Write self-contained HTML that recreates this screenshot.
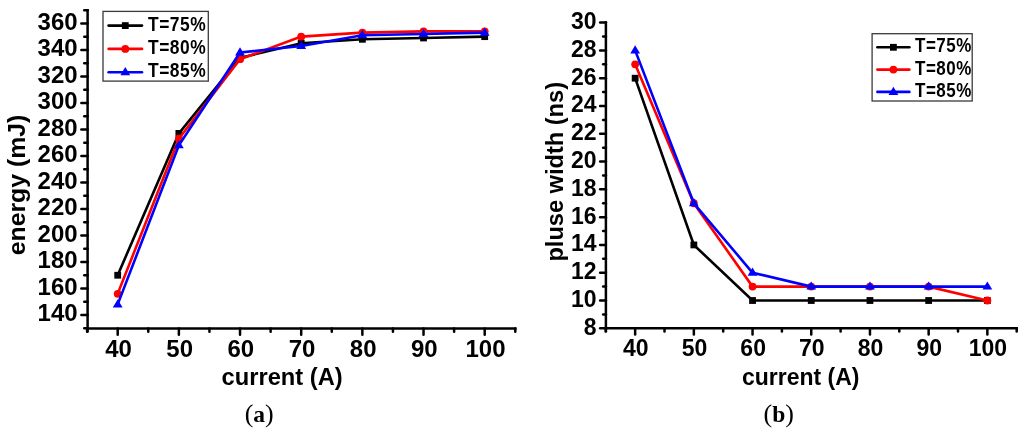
<!DOCTYPE html>
<html><head><meta charset="utf-8"><style>
html,body{margin:0;padding:0;background:#fff;width:1024px;height:433px;overflow:hidden}
svg{display:block;will-change:transform}
</style></head><body>
<svg width="1024" height="433" viewBox="0 0 1024 433" font-family='"Liberation Sans", sans-serif' font-weight="bold">
<rect width="1024" height="433" fill="#fff"/>
<line x1="87.60" y1="8.89" x2="87.60" y2="332.45" stroke="#000" stroke-width="2.5" fill="none"/>
<line x1="86.35" y1="328.45" x2="516.54" y2="328.45" stroke="#000" stroke-width="2.5" fill="none"/>
<line x1="84.25" y1="328.25" x2="87.60" y2="328.25" stroke="#000" stroke-width="2.5" fill="none" stroke-linecap="round"/>
<line x1="81.35" y1="315.00" x2="87.60" y2="315.00" stroke="#000" stroke-width="2.5" fill="none" stroke-linecap="round"/>
<line x1="84.25" y1="301.75" x2="87.60" y2="301.75" stroke="#000" stroke-width="2.5" fill="none" stroke-linecap="round"/>
<line x1="81.35" y1="288.49" x2="87.60" y2="288.49" stroke="#000" stroke-width="2.5" fill="none" stroke-linecap="round"/>
<line x1="84.25" y1="275.24" x2="87.60" y2="275.24" stroke="#000" stroke-width="2.5" fill="none" stroke-linecap="round"/>
<line x1="81.35" y1="261.98" x2="87.60" y2="261.98" stroke="#000" stroke-width="2.5" fill="none" stroke-linecap="round"/>
<line x1="84.25" y1="248.73" x2="87.60" y2="248.73" stroke="#000" stroke-width="2.5" fill="none" stroke-linecap="round"/>
<line x1="81.35" y1="235.47" x2="87.60" y2="235.47" stroke="#000" stroke-width="2.5" fill="none" stroke-linecap="round"/>
<line x1="84.25" y1="222.22" x2="87.60" y2="222.22" stroke="#000" stroke-width="2.5" fill="none" stroke-linecap="round"/>
<line x1="81.35" y1="208.96" x2="87.60" y2="208.96" stroke="#000" stroke-width="2.5" fill="none" stroke-linecap="round"/>
<line x1="84.25" y1="195.71" x2="87.60" y2="195.71" stroke="#000" stroke-width="2.5" fill="none" stroke-linecap="round"/>
<line x1="81.35" y1="182.45" x2="87.60" y2="182.45" stroke="#000" stroke-width="2.5" fill="none" stroke-linecap="round"/>
<line x1="84.25" y1="169.20" x2="87.60" y2="169.20" stroke="#000" stroke-width="2.5" fill="none" stroke-linecap="round"/>
<line x1="81.35" y1="155.94" x2="87.60" y2="155.94" stroke="#000" stroke-width="2.5" fill="none" stroke-linecap="round"/>
<line x1="84.25" y1="142.69" x2="87.60" y2="142.69" stroke="#000" stroke-width="2.5" fill="none" stroke-linecap="round"/>
<line x1="81.35" y1="129.43" x2="87.60" y2="129.43" stroke="#000" stroke-width="2.5" fill="none" stroke-linecap="round"/>
<line x1="84.25" y1="116.18" x2="87.60" y2="116.18" stroke="#000" stroke-width="2.5" fill="none" stroke-linecap="round"/>
<line x1="81.35" y1="102.92" x2="87.60" y2="102.92" stroke="#000" stroke-width="2.5" fill="none" stroke-linecap="round"/>
<line x1="84.25" y1="89.67" x2="87.60" y2="89.67" stroke="#000" stroke-width="2.5" fill="none" stroke-linecap="round"/>
<line x1="81.35" y1="76.41" x2="87.60" y2="76.41" stroke="#000" stroke-width="2.5" fill="none" stroke-linecap="round"/>
<line x1="84.25" y1="63.16" x2="87.60" y2="63.16" stroke="#000" stroke-width="2.5" fill="none" stroke-linecap="round"/>
<line x1="81.35" y1="49.90" x2="87.60" y2="49.90" stroke="#000" stroke-width="2.5" fill="none" stroke-linecap="round"/>
<line x1="84.25" y1="36.65" x2="87.60" y2="36.65" stroke="#000" stroke-width="2.5" fill="none" stroke-linecap="round"/>
<line x1="81.35" y1="23.39" x2="87.60" y2="23.39" stroke="#000" stroke-width="2.5" fill="none" stroke-linecap="round"/>
<line x1="84.25" y1="10.14" x2="87.60" y2="10.14" stroke="#000" stroke-width="2.5" fill="none" stroke-linecap="round"/>
<text transform="translate(77.60,321.30) scale(1.0,1.035)" text-anchor="end" font-size="24">140</text>
<text transform="translate(77.60,294.79) scale(1.0,1.035)" text-anchor="end" font-size="24">160</text>
<text transform="translate(77.60,268.28) scale(1.0,1.035)" text-anchor="end" font-size="24">180</text>
<text transform="translate(77.60,241.77) scale(1.0,1.035)" text-anchor="end" font-size="24">200</text>
<text transform="translate(77.60,215.26) scale(1.0,1.035)" text-anchor="end" font-size="24">220</text>
<text transform="translate(77.60,188.75) scale(1.0,1.035)" text-anchor="end" font-size="24">240</text>
<text transform="translate(77.60,162.24) scale(1.0,1.035)" text-anchor="end" font-size="24">260</text>
<text transform="translate(77.60,135.73) scale(1.0,1.035)" text-anchor="end" font-size="24">280</text>
<text transform="translate(77.60,109.22) scale(1.0,1.035)" text-anchor="end" font-size="24">300</text>
<text transform="translate(77.60,82.71) scale(1.0,1.035)" text-anchor="end" font-size="24">320</text>
<text transform="translate(77.60,56.20) scale(1.0,1.035)" text-anchor="end" font-size="24">340</text>
<text transform="translate(77.60,29.69) scale(1.0,1.035)" text-anchor="end" font-size="24">360</text>
<line x1="87.12" y1="328.45" x2="87.12" y2="331.70" stroke="#000" stroke-width="2.5" fill="none" stroke-linecap="round"/>
<line x1="117.70" y1="328.45" x2="117.70" y2="334.70" stroke="#000" stroke-width="2.5" fill="none" stroke-linecap="round"/>
<text transform="translate(118.50,357.00) scale(1.0,1.035)" text-anchor="middle" font-size="24">40</text>
<line x1="148.28" y1="328.45" x2="148.28" y2="331.70" stroke="#000" stroke-width="2.5" fill="none" stroke-linecap="round"/>
<line x1="178.87" y1="328.45" x2="178.87" y2="334.70" stroke="#000" stroke-width="2.5" fill="none" stroke-linecap="round"/>
<text transform="translate(179.67,357.00) scale(1.0,1.035)" text-anchor="middle" font-size="24">50</text>
<line x1="209.45" y1="328.45" x2="209.45" y2="331.70" stroke="#000" stroke-width="2.5" fill="none" stroke-linecap="round"/>
<line x1="240.03" y1="328.45" x2="240.03" y2="334.70" stroke="#000" stroke-width="2.5" fill="none" stroke-linecap="round"/>
<text transform="translate(240.83,357.00) scale(1.0,1.035)" text-anchor="middle" font-size="24">60</text>
<line x1="270.62" y1="328.45" x2="270.62" y2="331.70" stroke="#000" stroke-width="2.5" fill="none" stroke-linecap="round"/>
<line x1="301.20" y1="328.45" x2="301.20" y2="334.70" stroke="#000" stroke-width="2.5" fill="none" stroke-linecap="round"/>
<text transform="translate(302.00,357.00) scale(1.0,1.035)" text-anchor="middle" font-size="24">70</text>
<line x1="331.78" y1="328.45" x2="331.78" y2="331.70" stroke="#000" stroke-width="2.5" fill="none" stroke-linecap="round"/>
<line x1="362.37" y1="328.45" x2="362.37" y2="334.70" stroke="#000" stroke-width="2.5" fill="none" stroke-linecap="round"/>
<text transform="translate(363.17,357.00) scale(1.0,1.035)" text-anchor="middle" font-size="24">80</text>
<line x1="392.95" y1="328.45" x2="392.95" y2="331.70" stroke="#000" stroke-width="2.5" fill="none" stroke-linecap="round"/>
<line x1="423.53" y1="328.45" x2="423.53" y2="334.70" stroke="#000" stroke-width="2.5" fill="none" stroke-linecap="round"/>
<text transform="translate(424.33,357.00) scale(1.0,1.035)" text-anchor="middle" font-size="24">90</text>
<line x1="454.12" y1="328.45" x2="454.12" y2="331.70" stroke="#000" stroke-width="2.5" fill="none" stroke-linecap="round"/>
<line x1="484.70" y1="328.45" x2="484.70" y2="334.70" stroke="#000" stroke-width="2.5" fill="none" stroke-linecap="round"/>
<text transform="translate(485.50,357.00) scale(1.0,1.035)" text-anchor="middle" font-size="24">100</text>
<line x1="515.29" y1="328.45" x2="515.29" y2="331.70" stroke="#000" stroke-width="2.5" fill="none" stroke-linecap="round"/>
<polyline points="117.70,275.24 178.87,133.41 240.03,57.85 301.20,43.27 362.37,39.30 423.53,37.97 484.70,36.65" fill="none" stroke="#000" stroke-width="2.6" stroke-linejoin="miter"/>
<rect x="114.30" y="271.84" width="6.8" height="6.8" fill="#000"/>
<rect x="175.47" y="130.01" width="6.8" height="6.8" fill="#000"/>
<rect x="236.63" y="54.45" width="6.8" height="6.8" fill="#000"/>
<rect x="297.80" y="39.87" width="6.8" height="6.8" fill="#000"/>
<rect x="358.97" y="35.90" width="6.8" height="6.8" fill="#000"/>
<rect x="420.13" y="34.57" width="6.8" height="6.8" fill="#000"/>
<rect x="481.30" y="33.25" width="6.8" height="6.8" fill="#000"/>
<polyline points="117.70,293.79 178.87,138.71 240.03,59.18 301.20,36.65 362.37,32.67 423.53,31.34 484.70,31.34" fill="none" stroke="#f00" stroke-width="2.6" stroke-linejoin="miter"/>
<circle cx="117.70" cy="293.79" r="3.9" fill="#f00"/>
<circle cx="178.87" cy="138.71" r="3.9" fill="#f00"/>
<circle cx="240.03" cy="59.18" r="3.9" fill="#f00"/>
<circle cx="301.20" cy="36.65" r="3.9" fill="#f00"/>
<circle cx="362.37" cy="32.67" r="3.9" fill="#f00"/>
<circle cx="423.53" cy="31.34" r="3.9" fill="#f00"/>
<circle cx="484.70" cy="31.34" r="3.9" fill="#f00"/>
<polyline points="117.70,304.40 178.87,145.34 240.03,52.55 301.20,45.92 362.37,35.32 423.53,33.99 484.70,32.67" fill="none" stroke="#00f" stroke-width="2.6" stroke-linejoin="miter"/>
<polygon points="117.70,299.20 112.80,307.40 122.60,307.40" fill="#00f"/>
<polygon points="178.87,140.14 173.97,148.34 183.77,148.34" fill="#00f"/>
<polygon points="240.03,47.35 235.13,55.55 244.93,55.55" fill="#00f"/>
<polygon points="301.20,40.72 296.30,48.92 306.10,48.92" fill="#00f"/>
<polygon points="362.37,30.12 357.47,38.32 367.27,38.32" fill="#00f"/>
<polygon points="423.53,28.79 418.63,36.99 428.43,36.99" fill="#00f"/>
<polygon points="484.70,27.47 479.80,35.67 489.60,35.67" fill="#00f"/>
<rect x="103.00" y="11.40" width="105.30" height="69.70" fill="#fff" stroke="#3a3a3a" stroke-width="1.3"/>
<line x1="108.60" y1="25.60" x2="142.00" y2="25.60" stroke="#000" stroke-width="2.6" stroke-linecap="round"/>
<rect x="121.90" y="22.20" width="6.8" height="6.8" fill="#000"/>
<text transform="translate(148.00,30.60) scale(0.87,1.0)" text-anchor="start" font-size="20" letter-spacing="0.6">T=75%</text>
<line x1="108.60" y1="48.90" x2="142.00" y2="48.90" stroke="#f00" stroke-width="2.6" stroke-linecap="round"/>
<circle cx="125.30" cy="48.90" r="3.9" fill="#f00"/>
<text transform="translate(148.00,53.90) scale(0.87,1.0)" text-anchor="start" font-size="20" letter-spacing="0.6">T=80%</text>
<line x1="108.60" y1="72.20" x2="142.00" y2="72.20" stroke="#00f" stroke-width="2.6" stroke-linecap="round"/>
<polygon points="125.30,67.00 120.40,75.20 130.20,75.20" fill="#00f"/>
<text transform="translate(148.00,77.20) scale(0.87,1.0)" text-anchor="start" font-size="20" letter-spacing="0.6">T=85%</text>
<text transform="translate(282.10,385.00) scale(0.988,1.03)" text-anchor="middle" font-size="24">current (A)</text>
<text transform="translate(24.90,185.00) rotate(-90) scale(1.034,1.0)" text-anchor="middle" font-size="24">energy (mJ)</text>
<text transform="translate(259.20,422.00)" text-anchor="middle" font-size="26" font-family='"Liberation Serif", serif' font-weight="normal">(<tspan font-weight="bold" font-size="23.5">a</tspan>)</text>
<line x1="605.90" y1="21.36" x2="605.90" y2="332.30" stroke="#000" stroke-width="2.5" fill="none"/>
<line x1="604.65" y1="328.30" x2="1017.95" y2="328.30" stroke="#000" stroke-width="2.5" fill="none"/>
<line x1="600.15" y1="328.30" x2="605.90" y2="328.30" stroke="#000" stroke-width="2.5" fill="none" stroke-linecap="round"/>
<line x1="603.15" y1="314.41" x2="605.90" y2="314.41" stroke="#000" stroke-width="2.5" fill="none" stroke-linecap="round"/>
<line x1="600.15" y1="300.51" x2="605.90" y2="300.51" stroke="#000" stroke-width="2.5" fill="none" stroke-linecap="round"/>
<line x1="603.15" y1="286.62" x2="605.90" y2="286.62" stroke="#000" stroke-width="2.5" fill="none" stroke-linecap="round"/>
<line x1="600.15" y1="272.72" x2="605.90" y2="272.72" stroke="#000" stroke-width="2.5" fill="none" stroke-linecap="round"/>
<line x1="603.15" y1="258.83" x2="605.90" y2="258.83" stroke="#000" stroke-width="2.5" fill="none" stroke-linecap="round"/>
<line x1="600.15" y1="244.93" x2="605.90" y2="244.93" stroke="#000" stroke-width="2.5" fill="none" stroke-linecap="round"/>
<line x1="603.15" y1="231.04" x2="605.90" y2="231.04" stroke="#000" stroke-width="2.5" fill="none" stroke-linecap="round"/>
<line x1="600.15" y1="217.14" x2="605.90" y2="217.14" stroke="#000" stroke-width="2.5" fill="none" stroke-linecap="round"/>
<line x1="603.15" y1="203.25" x2="605.90" y2="203.25" stroke="#000" stroke-width="2.5" fill="none" stroke-linecap="round"/>
<line x1="600.15" y1="189.35" x2="605.90" y2="189.35" stroke="#000" stroke-width="2.5" fill="none" stroke-linecap="round"/>
<line x1="603.15" y1="175.46" x2="605.90" y2="175.46" stroke="#000" stroke-width="2.5" fill="none" stroke-linecap="round"/>
<line x1="600.15" y1="161.56" x2="605.90" y2="161.56" stroke="#000" stroke-width="2.5" fill="none" stroke-linecap="round"/>
<line x1="603.15" y1="147.67" x2="605.90" y2="147.67" stroke="#000" stroke-width="2.5" fill="none" stroke-linecap="round"/>
<line x1="600.15" y1="133.77" x2="605.90" y2="133.77" stroke="#000" stroke-width="2.5" fill="none" stroke-linecap="round"/>
<line x1="603.15" y1="119.88" x2="605.90" y2="119.88" stroke="#000" stroke-width="2.5" fill="none" stroke-linecap="round"/>
<line x1="600.15" y1="105.98" x2="605.90" y2="105.98" stroke="#000" stroke-width="2.5" fill="none" stroke-linecap="round"/>
<line x1="603.15" y1="92.09" x2="605.90" y2="92.09" stroke="#000" stroke-width="2.5" fill="none" stroke-linecap="round"/>
<line x1="600.15" y1="78.19" x2="605.90" y2="78.19" stroke="#000" stroke-width="2.5" fill="none" stroke-linecap="round"/>
<line x1="603.15" y1="64.30" x2="605.90" y2="64.30" stroke="#000" stroke-width="2.5" fill="none" stroke-linecap="round"/>
<line x1="600.15" y1="50.40" x2="605.90" y2="50.40" stroke="#000" stroke-width="2.5" fill="none" stroke-linecap="round"/>
<line x1="603.15" y1="36.50" x2="605.90" y2="36.50" stroke="#000" stroke-width="2.5" fill="none" stroke-linecap="round"/>
<line x1="600.15" y1="22.61" x2="605.90" y2="22.61" stroke="#000" stroke-width="2.5" fill="none" stroke-linecap="round"/>
<text transform="translate(596.50,334.70) scale(1.0,1.06)" text-anchor="end" font-size="23">8</text>
<text transform="translate(596.50,306.91) scale(1.0,1.06)" text-anchor="end" font-size="23">10</text>
<text transform="translate(596.50,279.12) scale(1.0,1.06)" text-anchor="end" font-size="23">12</text>
<text transform="translate(596.50,251.33) scale(1.0,1.06)" text-anchor="end" font-size="23">14</text>
<text transform="translate(596.50,223.54) scale(1.0,1.06)" text-anchor="end" font-size="23">16</text>
<text transform="translate(596.50,195.75) scale(1.0,1.06)" text-anchor="end" font-size="23">18</text>
<text transform="translate(596.50,167.96) scale(1.0,1.06)" text-anchor="end" font-size="23">20</text>
<text transform="translate(596.50,140.17) scale(1.0,1.06)" text-anchor="end" font-size="23">22</text>
<text transform="translate(596.50,112.38) scale(1.0,1.06)" text-anchor="end" font-size="23">24</text>
<text transform="translate(596.50,84.59) scale(1.0,1.06)" text-anchor="end" font-size="23">26</text>
<text transform="translate(596.50,56.80) scale(1.0,1.06)" text-anchor="end" font-size="23">28</text>
<text transform="translate(596.50,29.01) scale(1.0,1.06)" text-anchor="end" font-size="23">30</text>
<line x1="605.80" y1="328.30" x2="605.80" y2="331.55" stroke="#000" stroke-width="2.5" fill="none" stroke-linecap="round"/>
<line x1="635.15" y1="328.30" x2="635.15" y2="334.55" stroke="#000" stroke-width="2.5" fill="none" stroke-linecap="round"/>
<text transform="translate(635.75,355.50) scale(1.0,1.06)" text-anchor="middle" font-size="23">40</text>
<line x1="664.50" y1="328.30" x2="664.50" y2="331.55" stroke="#000" stroke-width="2.5" fill="none" stroke-linecap="round"/>
<line x1="693.85" y1="328.30" x2="693.85" y2="334.55" stroke="#000" stroke-width="2.5" fill="none" stroke-linecap="round"/>
<text transform="translate(694.45,355.50) scale(1.0,1.06)" text-anchor="middle" font-size="23">50</text>
<line x1="723.20" y1="328.30" x2="723.20" y2="331.55" stroke="#000" stroke-width="2.5" fill="none" stroke-linecap="round"/>
<line x1="752.55" y1="328.30" x2="752.55" y2="334.55" stroke="#000" stroke-width="2.5" fill="none" stroke-linecap="round"/>
<text transform="translate(753.15,355.50) scale(1.0,1.06)" text-anchor="middle" font-size="23">60</text>
<line x1="781.90" y1="328.30" x2="781.90" y2="331.55" stroke="#000" stroke-width="2.5" fill="none" stroke-linecap="round"/>
<line x1="811.25" y1="328.30" x2="811.25" y2="334.55" stroke="#000" stroke-width="2.5" fill="none" stroke-linecap="round"/>
<text transform="translate(811.85,355.50) scale(1.0,1.06)" text-anchor="middle" font-size="23">70</text>
<line x1="840.60" y1="328.30" x2="840.60" y2="331.55" stroke="#000" stroke-width="2.5" fill="none" stroke-linecap="round"/>
<line x1="869.95" y1="328.30" x2="869.95" y2="334.55" stroke="#000" stroke-width="2.5" fill="none" stroke-linecap="round"/>
<text transform="translate(870.55,355.50) scale(1.0,1.06)" text-anchor="middle" font-size="23">80</text>
<line x1="899.30" y1="328.30" x2="899.30" y2="331.55" stroke="#000" stroke-width="2.5" fill="none" stroke-linecap="round"/>
<line x1="928.65" y1="328.30" x2="928.65" y2="334.55" stroke="#000" stroke-width="2.5" fill="none" stroke-linecap="round"/>
<text transform="translate(929.25,355.50) scale(1.0,1.06)" text-anchor="middle" font-size="23">90</text>
<line x1="958.00" y1="328.30" x2="958.00" y2="331.55" stroke="#000" stroke-width="2.5" fill="none" stroke-linecap="round"/>
<line x1="987.35" y1="328.30" x2="987.35" y2="334.55" stroke="#000" stroke-width="2.5" fill="none" stroke-linecap="round"/>
<text transform="translate(987.95,355.50) scale(1.0,1.06)" text-anchor="middle" font-size="23">100</text>
<line x1="1016.70" y1="328.30" x2="1016.70" y2="331.55" stroke="#000" stroke-width="2.5" fill="none" stroke-linecap="round"/>
<polyline points="635.15,78.19 693.85,244.93 752.55,300.51 811.25,300.51 869.95,300.51 928.65,300.51 987.35,300.51" fill="none" stroke="#000" stroke-width="2.6" stroke-linejoin="miter"/>
<rect x="631.75" y="74.79" width="6.8" height="6.8" fill="#000"/>
<rect x="690.45" y="241.53" width="6.8" height="6.8" fill="#000"/>
<rect x="749.15" y="297.11" width="6.8" height="6.8" fill="#000"/>
<rect x="807.85" y="297.11" width="6.8" height="6.8" fill="#000"/>
<rect x="866.55" y="297.11" width="6.8" height="6.8" fill="#000"/>
<rect x="925.25" y="297.11" width="6.8" height="6.8" fill="#000"/>
<rect x="983.95" y="297.11" width="6.8" height="6.8" fill="#000"/>
<polyline points="635.15,64.30 693.85,203.25 752.55,286.62 811.25,286.62 869.95,286.62 928.65,286.62 987.35,300.51" fill="none" stroke="#f00" stroke-width="2.6" stroke-linejoin="miter"/>
<circle cx="635.15" cy="64.30" r="3.9" fill="#f00"/>
<circle cx="693.85" cy="203.25" r="3.9" fill="#f00"/>
<circle cx="752.55" cy="286.62" r="3.9" fill="#f00"/>
<circle cx="811.25" cy="286.62" r="3.9" fill="#f00"/>
<circle cx="869.95" cy="286.62" r="3.9" fill="#f00"/>
<circle cx="928.65" cy="286.62" r="3.9" fill="#f00"/>
<circle cx="987.35" cy="300.51" r="3.9" fill="#f00"/>
<polyline points="635.15,50.40 693.85,203.25 752.55,272.72 811.25,286.62 869.95,286.62 928.65,286.62 987.35,286.62" fill="none" stroke="#00f" stroke-width="2.6" stroke-linejoin="miter"/>
<polygon points="635.15,45.20 630.25,53.40 640.05,53.40" fill="#00f"/>
<polygon points="693.85,198.05 688.95,206.25 698.75,206.25" fill="#00f"/>
<polygon points="752.55,267.52 747.65,275.72 757.45,275.72" fill="#00f"/>
<polygon points="811.25,281.42 806.35,289.62 816.15,289.62" fill="#00f"/>
<polygon points="869.95,281.42 865.05,289.62 874.85,289.62" fill="#00f"/>
<polygon points="928.65,281.42 923.75,289.62 933.55,289.62" fill="#00f"/>
<polygon points="987.35,281.42 982.45,289.62 992.25,289.62" fill="#00f"/>
<rect x="872.10" y="33.70" width="100.10" height="67.30" fill="#fff" stroke="#3a3a3a" stroke-width="1.3"/>
<line x1="877.40" y1="47.30" x2="909.40" y2="47.30" stroke="#000" stroke-width="2.6" stroke-linecap="round"/>
<rect x="890.00" y="43.90" width="6.8" height="6.8" fill="#000"/>
<text transform="translate(915.00,52.30) scale(0.87,1.0)" text-anchor="start" font-size="19.5" letter-spacing="0.6">T=75%</text>
<line x1="877.40" y1="69.60" x2="909.40" y2="69.60" stroke="#f00" stroke-width="2.6" stroke-linecap="round"/>
<circle cx="893.40" cy="69.60" r="3.9" fill="#f00"/>
<text transform="translate(915.00,74.60) scale(0.87,1.0)" text-anchor="start" font-size="19.5" letter-spacing="0.6">T=80%</text>
<line x1="877.40" y1="91.90" x2="909.40" y2="91.90" stroke="#00f" stroke-width="2.6" stroke-linecap="round"/>
<polygon points="893.40,86.70 888.50,94.90 898.30,94.90" fill="#00f"/>
<text transform="translate(915.00,96.90) scale(0.87,1.0)" text-anchor="start" font-size="19.5" letter-spacing="0.6">T=85%</text>
<text transform="translate(800.70,385.20) scale(1.0,1.055)" text-anchor="middle" font-size="23">current (A)</text>
<text transform="translate(563.00,171.80) rotate(-90) scale(1.026,1.0)" text-anchor="middle" font-size="23">pluse width (ns)</text>
<text transform="translate(778.80,422.00)" text-anchor="middle" font-size="26" font-family='"Liberation Serif", serif' font-weight="normal">(<tspan font-weight="bold" font-size="23.5">b</tspan>)</text>
</svg>
</body></html>
